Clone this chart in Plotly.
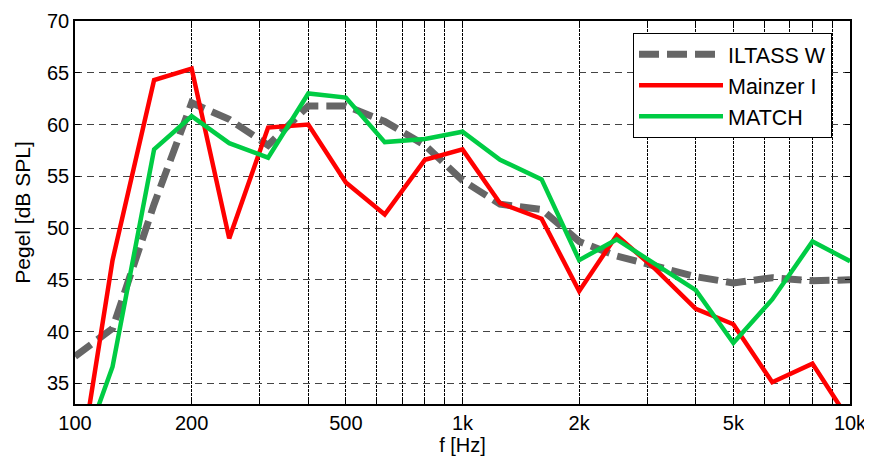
import plotly.graph_objects as go

freq = [100, 125, 160, 200, 250, 315, 400, 500, 630, 800, 1000, 1250, 1600,
        2000, 2500, 3150, 4000, 5000, 6300, 8000, 10000]

iltass_w = [37.6, 40.3, 52.3, 62.1, 60.5, 58.0, 61.8, 61.8, 60.3, 58.0, 54.6,
            52.3, 51.8, 48.7, 47.3, 46.4, 45.3, 44.7, 45.2, 44.9, 45.0]
mainzer_i = [24.0, 46.9, 64.3, 65.4, 49.0, 59.7, 60.0, 54.4, 51.3, 56.6, 57.6,
             52.4, 50.9, 43.9, 49.3, 46.0, 42.2, 40.7, 35.1, 36.9, 31.3]
match = [26.5, 36.6, 57.6, 60.8, 58.2, 56.8, 63.0, 62.6, 58.3, 58.6, 59.3,
         56.6, 54.7, 46.9, 48.9, 46.5, 44.0, 38.9, 43.1, 48.7, 46.8]

grid_vals = [100, 200, 300, 400, 500, 600, 700, 800, 900, 1000, 2000, 3000,
             4000, 5000, 6000, 7000, 8000, 9000, 10000]
grid_text = ["100", "200", "", "", "500", "", "", "", "", "1k", "2k", "", "",
             "5k", "", "", "", "", "10k"]
y_ticks = [35, 40, 45, 50, 55, 60, 65, 70]

font = "Liberation Sans, Arial, Helvetica, sans-serif"

fig = go.Figure()
fig.add_trace(go.Scatter(x=freq, y=iltass_w, mode="lines", name="ILTASS W",
                         line=dict(color="#666666", width=7, dash="20px,8px")))
fig.add_trace(go.Scatter(x=freq, y=mainzer_i, mode="lines", name="Mainzer I",
                         line=dict(color="#ff0000", width=4.5)))
fig.add_trace(go.Scatter(x=freq, y=match, mode="lines", name="MATCH",
                         line=dict(color="#00cc44", width=4.5)))

# the page body has an 8px margin, so the figure is made 8px smaller
fig.update_layout(
    width=864, height=454,
    margin=dict(l=67, r=22, t=13, b=58),
    paper_bgcolor="white", plot_bgcolor="white",
    font=dict(family=font, size=20, color="black"),
    showlegend=True,
    legend=dict(x=0.72, y=0.969, xanchor="left", yanchor="top",
                bgcolor="white", bordercolor="black", borderwidth=1,
                font=dict(size=21.5), tracegroupgap=0, itemwidth=84),
)
fig.update_xaxes(
    type="log", range=[2, 4], automargin=False,
    tickvals=grid_vals, ticktext=grid_text,
    showgrid=True, gridcolor="black", gridwidth=1, griddash="3px,1px",
    showline=True, linecolor="black", linewidth=1.5, mirror="ticks",
    ticks="inside", ticklen=5, tickcolor="black",
    title=dict(text="f [Hz]", font=dict(size=20), standoff=3),
    zeroline=False,
)
fig.update_yaxes(
    range=[33, 70], tickvals=y_ticks, automargin=False,
    showgrid=True, gridcolor="#444444", gridwidth=1, griddash="7px,5px",
    showline=True, linecolor="black", linewidth=1.5, mirror="ticks",
    ticks="inside", ticklen=5, tickcolor="black",
    title=dict(text="Pegel [dB SPL]", font=dict(size=21), standoff=11),
    zeroline=False,
)

fig.write_html("out.html")
